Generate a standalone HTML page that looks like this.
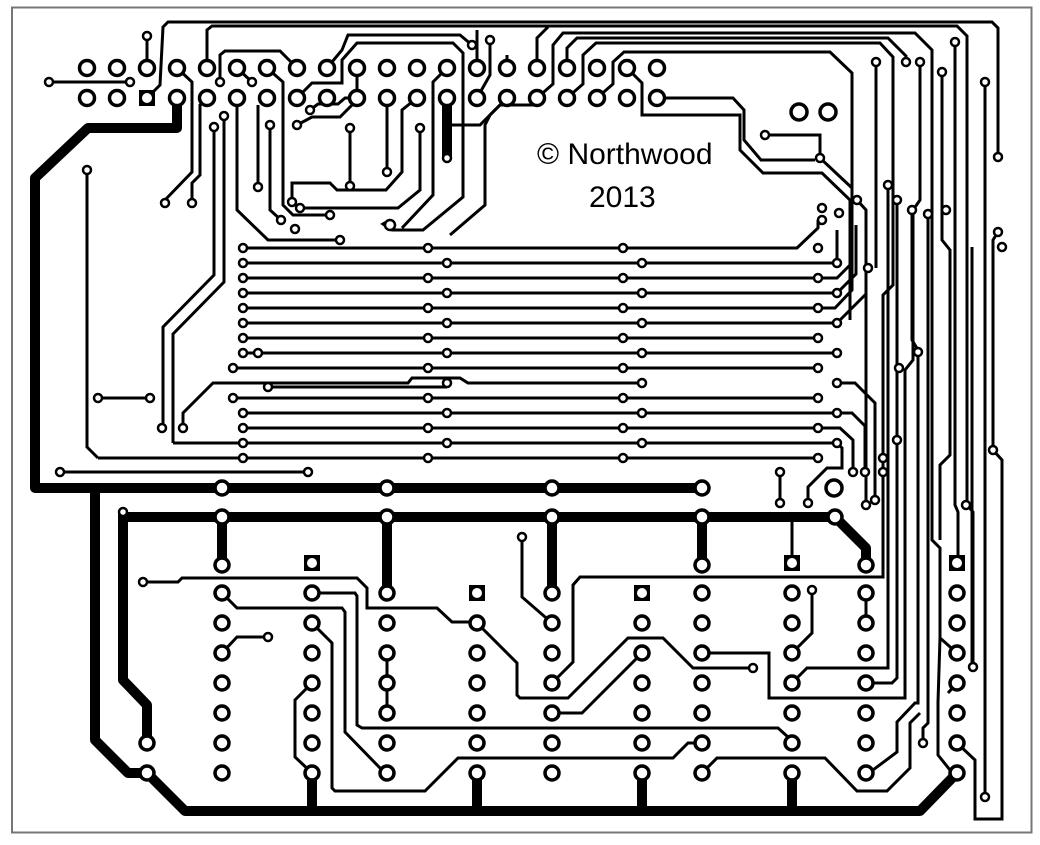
<!DOCTYPE html>
<html><head><meta charset="utf-8"><style>
html,body{margin:0;padding:0;background:#fff}
svg{display:block}
.t{fill:none;stroke:#000;stroke-width:3;stroke-linejoin:miter}
.k{fill:none;stroke:#000;stroke-width:10;stroke-linecap:round;stroke-linejoin:round}
.p{fill:#fff;stroke:#000;stroke-width:3.5}
.v{fill:#fff;stroke:#000;stroke-width:2.5}
</style></head><body>
<svg width="1040" height="845" viewBox="0 0 1040 845" xmlns="http://www.w3.org/2000/svg">
<rect x="12" y="7.5" width="1019.5" height="825" fill="#fff" stroke="#777" stroke-width="2"/>

<!-- thick traces -->
<g class="k">
<polyline points="177,98 177,128 88,128 35,178 35,488 702,488"/>
<polyline points="95,488 95,740 128,773 147,773 185,811 920,811 957,773"/>
<polyline points="123,512 123,680 147,705 147,743"/>
<polyline points="123,517 835,517 866,548 866,563"/>
<line x1="222" y1="517" x2="222" y2="565"/>
<line x1="387" y1="517" x2="387" y2="593"/>
<line x1="552" y1="517" x2="552" y2="593"/>
<line x1="702" y1="517" x2="702" y2="565"/>
<line x1="312" y1="773" x2="312" y2="811"/>
<line x1="477" y1="773" x2="477" y2="811"/>
<line x1="642" y1="773" x2="642" y2="811"/>
<line x1="792" y1="773" x2="792" y2="811"/>
<line x1="447" y1="98" x2="447" y2="158"/>
</g>

<!-- thin traces -->
<g class="t">
<!-- header -->
<line x1="147" y1="68" x2="147" y2="36"/>
<line x1="49" y1="82" x2="130" y2="82"/>
<polyline points="147,98 160,85 163,27 168,22 992,22 998,28 998,157"/>
<polyline points="177,68 192,82 192,172 165,200"/>
<polyline points="207,68 207,30 212,26 957,26 967,36 967,505 973,512 973,667"/>
<polyline points="207,98 200,105 200,175 192,183 192,203"/>
<polyline points="220,82 220,55 225,51 280,51 297,68"/>
<line x1="237" y1="68" x2="252" y2="82"/>
<polyline points="237,98 237,210 268,240 340,240"/>
<polyline points="267,68 283,82 283,205 293,215 330,215"/>
<line x1="258" y1="187" x2="258" y2="105"/>
<polyline points="270,125 270,210 281,220"/>
<polyline points="297,98 312,83 342,83 342,60 357,43 453,43 463,53 463,197 423,230 392,230 383,224 390,220"/>
<polyline points="327,68 342,50 348,35 460,35 472,45"/>
<polyline points="297,125 312,117 340,117 357,100 357,68"/>
<polyline points="310,110 318,104 338,104 345,98 357,98"/>
<line x1="350" y1="130" x2="350" y2="186"/>
<polyline points="292,200 292,183 330,183 337,190 386,190 402,172 402,110 417,98"/>
<line x1="387" y1="98" x2="387" y2="172"/>
<polyline points="300,208 398,208 420,190 420,128"/>
<polyline points="447,68 433,82 433,195 402,228"/>
<polyline points="477,68 477,30"/>
<polyline points="490,40 490,75 477,98"/>
<polyline points="507,68 507,55"/>
<polyline points="537,68 537,38 548,27"/>
<polyline points="537,98 553,84 553,45 563,33 915,33 932,50 932,540 940,548 940,638 957,653"/>
<polyline points="567,98 583,84 583,55 596,43 880,43 893,57 893,285 883,295 883,577 580,577 573,585 573,662 552,683"/>
<polyline points="567,68 567,48 577,38 888,38 906,56 906,62"/>
<polyline points="597,98 613,84 613,62 624,52 830,52 852,73 852,290 835,308 818,308"/>
<polyline points="627,68 642,83 642,115 740,115 740,150 763,173 822,173 850,200 850,320"/>
<polyline points="657,98 733,98 744,110 744,140 761,160 815,160"/>
<polyline points="765,135 820,135 820,158 852,188"/>
<polyline points="507,98 490,115 485,125 485,205 450,235"/>
<polyline points="447,125 480,125 500,105 540,105"/>
<polyline points="876,62 876,268"/>
<polyline points="920,62 920,200 913,210 913,360 905,370 905,698 769,698 769,653 702,653"/>
<polyline points="942,72 942,240 950,250 950,455 940,465 940,540"/>
<polyline points="955,42 955,505 958,512 958,563"/>
<polyline points="985,82 985,797"/>
<polyline points="998,232 993,240 993,450 1002,460 1002,819 975,819 975,760 957,743"/>
<polyline points="888,185 888,668 807,668 792,683"/>
<polyline points="897,200 897,678 892,683 866,683"/>
<polyline points="912,210 912,340 918,350 918,703 915,703 897,722 897,752 873,770 866,773"/>
<polyline points="928,214 928,723 923,728 923,743"/>
<polyline points="920,713 910,723 910,768 887,791 857,791 825,758 717,758 702,773"/>
<polyline points="940,638 938,702 938,755 950,770 957,773"/>
<polyline points="957,683 948,693"/>
<polyline points="972,247 972,667"/>
<polyline points="857,200 866,210 866,500"/>

<!-- bus rows -->
<polyline points="243,248 797,248 818,228 818,220"/>
<polyline points="243,263 837,263 837,230"/>
<polyline points="243,278 818,278 837,278 850,265"/>
<polyline points="243,293 837,293 856,274 856,225"/>
<polyline points="243,308 818,308"/>
<polyline points="243,323 837,323 866,294"/>
<polyline points="243,338 818,338"/>
<polyline points="243,353 837,353"/>
<polyline points="233,368 818,368"/>
<polyline points="183,428 183,413 213,383 408,383 412,378 460,378 468,383 642,383"/>
<polyline points="268,387 447,387"/>
<polyline points="233,398 818,398"/>
<polyline points="243,413 837,413 852,413 865,426 865,472"/>
<polyline points="243,428 818,428 840,428 853,440 853,472"/>
<polyline points="173,443 243,443 837,443 842,448 842,468 827,468 808,487 808,503"/>
<polyline points="98,458 818,458"/>
<polyline points="837,383 855,383 875,403 875,500"/>
<polyline points="87,170 87,447 98,458"/>
<polyline points="214,127 214,275 163,327 163,428"/>
<polyline points="224,116 224,282 173,334 173,443"/>
<line x1="98" y1="398" x2="150" y2="398"/>
<line x1="60" y1="472" x2="308" y2="472"/>
<line x1="780" y1="472" x2="780" y2="503"/>
<line x1="792" y1="517" x2="792" y2="563"/>

<!-- lower -->
<polyline points="143,582 178,582 182,578 357,578 367,588 367,608 437,608 452,622 477,622"/>
<polyline points="222,593 237,608 342,608 345,612 345,732 380,768 387,773"/>
<polyline points="312,593 355,593 357,596 357,725 362,728 778,728 788,737 792,743"/>
<polyline points="312,623 332,643 332,788 335,791 425,791 458,758 673,758 688,743 702,743"/>
<polyline points="268,637 237,637 222,653"/>
<line x1="387" y1="653" x2="387" y2="713"/>
<polyline points="312,683 295,700 295,757 312,773"/>
<polyline points="477,623 517,663 517,695 520,698 568,698 628,638 663,638 693,668 753,668"/>
<polyline points="522,537 522,597 552,623"/>
<polyline points="552,713 582,713 642,653"/>
<polyline points="812,590 812,633 792,653"/>
<line x1="866" y1="593" x2="866" y2="623"/>
</g>

<!-- header pads -->
<g class="p">
<circle cx="87" cy="68" r="7.5"/><circle cx="117" cy="68" r="7.5"/><circle cx="147" cy="68" r="7.5"/><circle cx="177" cy="68" r="7.5"/><circle cx="207" cy="68" r="7.5"/><circle cx="237" cy="68" r="7.5"/><circle cx="267" cy="68" r="7.5"/><circle cx="297" cy="68" r="7.5"/><circle cx="327" cy="68" r="7.5"/><circle cx="357" cy="68" r="7.5"/><circle cx="387" cy="68" r="7.5"/><circle cx="417" cy="68" r="7.5"/><circle cx="447" cy="68" r="7.5"/><circle cx="477" cy="68" r="7.5"/><circle cx="507" cy="68" r="7.5"/><circle cx="537" cy="68" r="7.5"/><circle cx="567" cy="68" r="7.5"/><circle cx="597" cy="68" r="7.5"/><circle cx="627" cy="68" r="7.5"/><circle cx="657" cy="68" r="7.5"/>
<circle cx="87" cy="98" r="7.5"/><circle cx="117" cy="98" r="7.5"/><circle cx="177" cy="98" r="7.5"/><circle cx="207" cy="98" r="7.5"/><circle cx="237" cy="98" r="7.5"/><circle cx="267" cy="98" r="7.5"/><circle cx="297" cy="98" r="7.5"/><circle cx="327" cy="98" r="7.5"/><circle cx="357" cy="98" r="7.5"/><circle cx="387" cy="98" r="7.5"/><circle cx="417" cy="98" r="7.5"/><circle cx="447" cy="98" r="7.5"/><circle cx="477" cy="98" r="7.5"/><circle cx="507" cy="98" r="7.5"/><circle cx="537" cy="98" r="7.5"/><circle cx="567" cy="98" r="7.5"/><circle cx="597" cy="98" r="7.5"/><circle cx="627" cy="98" r="7.5"/><circle cx="657" cy="98" r="7.5"/>
<circle cx="799" cy="112" r="8"/><circle cx="828" cy="112" r="8"/><circle cx="834" cy="488" r="8"/>
</g>
<rect x="139" y="90" width="16" height="16" fill="#000"/><circle cx="147" cy="98" r="5" fill="#fff"/>

<!-- lower pads -->
<g class="p">
<circle cx="222" cy="488" r="7"/><circle cx="387" cy="488" r="7"/><circle cx="552" cy="488" r="7"/><circle cx="702" cy="488" r="7"/>
<circle cx="222" cy="517" r="7"/><circle cx="387" cy="517" r="7"/><circle cx="552" cy="517" r="7"/><circle cx="702" cy="517" r="7"/><circle cx="835" cy="517" r="7"/>
<circle cx="222" cy="565" r="7"/><circle cx="702" cy="565" r="7"/><circle cx="866" cy="565" r="7"/>
<circle cx="147" cy="743" r="7"/><circle cx="147" cy="773" r="7"/>
</g>
<g class="p" id="cols">
<!-- columns -->
<circle cx="222" cy="593" r="7"/><circle cx="222" cy="623" r="7"/><circle cx="222" cy="653" r="7"/><circle cx="222" cy="683" r="7"/><circle cx="222" cy="713" r="7"/><circle cx="222" cy="743" r="7"/><circle cx="222" cy="773" r="7"/>
<circle cx="312" cy="593" r="7"/><circle cx="312" cy="623" r="7"/><circle cx="312" cy="653" r="7"/><circle cx="312" cy="683" r="7"/><circle cx="312" cy="713" r="7"/><circle cx="312" cy="743" r="7"/><circle cx="312" cy="773" r="7"/>
<circle cx="387" cy="593" r="7"/><circle cx="387" cy="623" r="7"/><circle cx="387" cy="653" r="7"/><circle cx="387" cy="683" r="7"/><circle cx="387" cy="713" r="7"/><circle cx="387" cy="743" r="7"/><circle cx="387" cy="773" r="7"/>
<circle cx="477" cy="623" r="7"/><circle cx="477" cy="653" r="7"/><circle cx="477" cy="683" r="7"/><circle cx="477" cy="713" r="7"/><circle cx="477" cy="743" r="7"/><circle cx="477" cy="773" r="7"/>
<circle cx="552" cy="593" r="7"/><circle cx="552" cy="623" r="7"/><circle cx="552" cy="653" r="7"/><circle cx="552" cy="683" r="7"/><circle cx="552" cy="713" r="7"/><circle cx="552" cy="743" r="7"/><circle cx="552" cy="773" r="7"/>
<circle cx="642" cy="623" r="7"/><circle cx="642" cy="653" r="7"/><circle cx="642" cy="683" r="7"/><circle cx="642" cy="713" r="7"/><circle cx="642" cy="743" r="7"/><circle cx="642" cy="773" r="7"/>
<circle cx="702" cy="593" r="7"/><circle cx="702" cy="623" r="7"/><circle cx="702" cy="653" r="7"/><circle cx="702" cy="683" r="7"/><circle cx="702" cy="713" r="7"/><circle cx="702" cy="743" r="7"/><circle cx="702" cy="773" r="7"/>
<circle cx="792" cy="593" r="7"/><circle cx="792" cy="623" r="7"/><circle cx="792" cy="653" r="7"/><circle cx="792" cy="683" r="7"/><circle cx="792" cy="713" r="7"/><circle cx="792" cy="743" r="7"/><circle cx="792" cy="773" r="7"/>
<circle cx="866" cy="593" r="7"/><circle cx="866" cy="623" r="7"/><circle cx="866" cy="653" r="7"/><circle cx="866" cy="683" r="7"/><circle cx="866" cy="713" r="7"/><circle cx="866" cy="743" r="7"/><circle cx="866" cy="773" r="7"/>
<circle cx="957" cy="593" r="7"/><circle cx="957" cy="623" r="7"/><circle cx="957" cy="653" r="7"/><circle cx="957" cy="683" r="7"/><circle cx="957" cy="713" r="7"/><circle cx="957" cy="743" r="7"/><circle cx="957" cy="773" r="7"/>
</g>
<g fill="#000">
<rect x="304" y="555" width="16" height="16"/><rect x="469" y="585" width="16" height="16"/><rect x="634" y="585" width="16" height="16"/><rect x="784" y="555" width="16" height="16"/><rect x="949" y="555" width="16" height="16"/>
</g>
<g fill="#fff">
<circle cx="312" cy="563" r="5"/><circle cx="477" cy="593" r="5"/><circle cx="642" cy="593" r="5"/><circle cx="792" cy="563" r="5"/><circle cx="957" cy="563" r="5"/>
</g>

<!-- vias -->
<g class="v">
<circle cx="147" cy="36" r="4"/><circle cx="49" cy="82" r="4"/><circle cx="130" cy="82" r="4"/><circle cx="165" cy="203" r="4"/><circle cx="192" cy="203" r="4"/>
<circle cx="220" cy="82" r="4"/><circle cx="252" cy="82" r="4"/><circle cx="214" cy="127" r="4"/><circle cx="224" cy="116" r="4"/><circle cx="258" cy="187" r="4"/><circle cx="270" cy="125" r="4"/>
<circle cx="281" cy="220" r="4"/><circle cx="295" cy="229" r="4"/><circle cx="340" cy="240" r="4"/><circle cx="330" cy="215" r="4"/><circle cx="292" cy="202" r="4"/><circle cx="300" cy="208" r="4"/>
<circle cx="297" cy="125" r="4"/><circle cx="310" cy="110" r="4"/><circle cx="350" cy="128" r="4"/><circle cx="350" cy="186" r="4"/><circle cx="387" cy="172" r="4"/><circle cx="420" cy="128" r="4"/><circle cx="447" cy="158" r="4"/>
<circle cx="472" cy="45" r="4"/><circle cx="490" cy="40" r="4"/><circle cx="390" cy="225" r="5"/>
<circle cx="765" cy="135" r="4"/><circle cx="820" cy="158" r="4"/><circle cx="876" cy="62" r="4"/><circle cx="906" cy="62" r="4"/><circle cx="920" cy="62" r="4"/><circle cx="942" cy="72" r="4"/><circle cx="955" cy="42" r="4"/><circle cx="985" cy="82" r="4"/><circle cx="998" cy="157" r="4"/>
<circle cx="868" cy="268" r="4"/><circle cx="888" cy="185" r="4"/><circle cx="897" cy="200" r="4"/><circle cx="912" cy="210" r="4"/><circle cx="928" cy="214" r="4"/><circle cx="946" cy="210" r="4"/><circle cx="857" cy="200" r="4"/><circle cx="998" cy="232" r="4"/><circle cx="1002" cy="247" r="4"/>
<circle cx="822" cy="208" r="4"/><circle cx="822" cy="220" r="4"/><circle cx="839" cy="213" r="4"/><circle cx="918" cy="352" r="4"/><circle cx="899" cy="368" r="4"/>
<circle cx="883" cy="458" r="4"/><circle cx="883" cy="472" r="4"/><circle cx="897" cy="440" r="4"/><circle cx="993" cy="450" r="4"/><circle cx="966" cy="505" r="4"/>
<circle cx="87" cy="170" r="4"/><circle cx="98" cy="398" r="4"/><circle cx="150" cy="398" r="4"/><circle cx="162" cy="428" r="4"/><circle cx="183" cy="428" r="4"/><circle cx="60" cy="472" r="4"/><circle cx="308" cy="472" r="4"/>
<circle cx="243" cy="248" r="4"/><circle cx="243" cy="263" r="4"/><circle cx="243" cy="278" r="4"/><circle cx="243" cy="293" r="4"/><circle cx="243" cy="308" r="4"/><circle cx="243" cy="323" r="4"/><circle cx="243" cy="338" r="4"/><circle cx="243" cy="353" r="4"/><circle cx="258" cy="353" r="4"/><circle cx="233" cy="368" r="4"/><circle cx="268" cy="387" r="4"/><circle cx="233" cy="398" r="4"/><circle cx="243" cy="413" r="4"/><circle cx="243" cy="428" r="4"/><circle cx="243" cy="443" r="4"/><circle cx="243" cy="458" r="4"/>
<circle cx="428" cy="248" r="4"/><circle cx="447" cy="263" r="4"/><circle cx="428" cy="278" r="4"/><circle cx="447" cy="293" r="4"/><circle cx="428" cy="308" r="4"/><circle cx="447" cy="323" r="4"/><circle cx="428" cy="338" r="4"/><circle cx="447" cy="353" r="4"/><circle cx="428" cy="368" r="4"/><circle cx="447" cy="383" r="4"/><circle cx="428" cy="398" r="4"/><circle cx="447" cy="413" r="4"/><circle cx="428" cy="428" r="4"/><circle cx="447" cy="443" r="4"/><circle cx="428" cy="458" r="4"/>
<circle cx="623" cy="248" r="4"/><circle cx="642" cy="263" r="4"/><circle cx="623" cy="278" r="4"/><circle cx="642" cy="293" r="4"/><circle cx="623" cy="308" r="4"/><circle cx="642" cy="323" r="4"/><circle cx="623" cy="338" r="4"/><circle cx="642" cy="353" r="4"/><circle cx="623" cy="368" r="4"/><circle cx="642" cy="383" r="4"/><circle cx="623" cy="398" r="4"/><circle cx="642" cy="413" r="4"/><circle cx="623" cy="428" r="4"/><circle cx="642" cy="443" r="4"/><circle cx="623" cy="458" r="4"/>
<circle cx="818" cy="248" r="4"/><circle cx="837" cy="263" r="4"/><circle cx="818" cy="278" r="4"/><circle cx="837" cy="293" r="4"/><circle cx="818" cy="308" r="4"/><circle cx="837" cy="323" r="4"/><circle cx="818" cy="338" r="4"/><circle cx="837" cy="353" r="4"/><circle cx="818" cy="368" r="4"/><circle cx="837" cy="383" r="4"/><circle cx="818" cy="398" r="4"/><circle cx="837" cy="413" r="4"/><circle cx="818" cy="428" r="4"/><circle cx="837" cy="443" r="4"/><circle cx="818" cy="458" r="4"/>
<circle cx="865" cy="472" r="4"/><circle cx="853" cy="472" r="4"/><circle cx="808" cy="503" r="4"/><circle cx="780" cy="472" r="4"/><circle cx="780" cy="503" r="4"/><circle cx="875" cy="500" r="4"/><circle cx="866" cy="505" r="4"/>
<circle cx="123" cy="512" r="4"/><circle cx="143" cy="582" r="4"/><circle cx="268" cy="637" r="4"/><circle cx="522" cy="537" r="4"/><circle cx="753" cy="668" r="4"/><circle cx="812" cy="590" r="4"/><circle cx="973" cy="667" r="4"/><circle cx="923" cy="743" r="4"/><circle cx="985" cy="797" r="4"/>
</g>

<g font-family="Liberation Sans, Arial, sans-serif" font-size="30" fill="#000">
<text x="537" y="164">© Northwood</text>
<text x="589" y="207">2013</text>
</g>
</svg>
</body></html>
